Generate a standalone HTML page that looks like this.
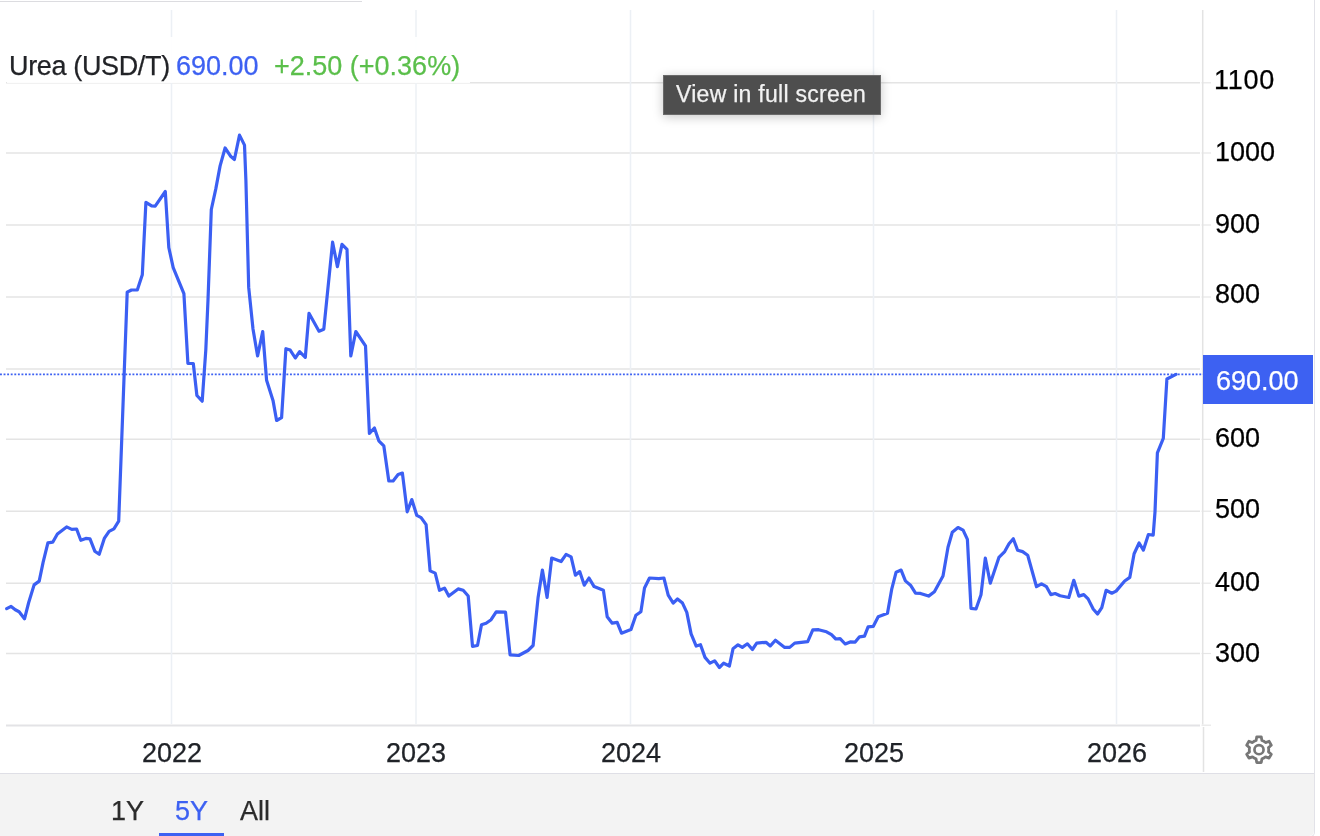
<!DOCTYPE html>
<html><head><meta charset="utf-8"><style>
html,body{margin:0;padding:0;background:#fff;width:1320px;height:836px;overflow:hidden;position:relative;font-family:"Liberation Sans",sans-serif;-webkit-font-smoothing:antialiased;}
.lt,.yl,.xl,.vbox span,.tip span,.btn{will-change:transform;-webkit-text-stroke:0.25px currentColor;}
.frame{position:absolute;left:-2px;top:-2px;width:1316px;height:838px;border-right:1.5px solid #e2e2e8;border-bottom:1px solid #e2e2e8;border-bottom-right-radius:5px;}
.topline{position:absolute;left:0;top:1px;width:362px;height:1.2px;background:#dcdce0;}
svg{position:absolute;left:0;top:0;}
.label{position:absolute;left:7px;top:37px;width:463px;height:46px;background:rgba(255,255,255,0.92);}
.lt{position:absolute;top:53px;font-size:27px;white-space:nowrap;line-height:1;}
.yl{position:absolute;left:1215px;font-size:27px;line-height:1;color:#000;white-space:nowrap;}
.xl{position:absolute;top:739.6px;width:120px;text-align:center;font-size:27px;line-height:1;color:#202328;}
.vbox{position:absolute;left:1203px;top:355px;width:110px;height:49px;background:#3d61f2;}
.vbox span{position:absolute;left:13px;top:12.6px;font-size:27px;line-height:1;color:#fff;}
.tip{position:absolute;left:663px;top:75px;width:216px;height:38px;background:#4e4e4e;border:1px solid #6a6a6a;box-shadow:0 2px 10px rgba(0,0,0,0.22);}
.tip span{position:absolute;left:12.2px;top:6.8px;font-size:23px;line-height:1;color:#f2f2f2;letter-spacing:0.27px;white-space:nowrap;}
.bottom{position:absolute;left:-2px;top:773px;width:1316px;height:62px;background:#f3f3f3;border-top:1px solid #dfdfe6;border-bottom-right-radius:5px;}
.btn{position:absolute;top:797.6px;font-size:27px;line-height:1;color:#2b2b2b;white-space:nowrap;}
.ul{position:absolute;left:159px;top:832.5px;width:65px;height:4px;background:#3d61f2;}
</style></head><body>
<div class="frame"></div>
<div class="topline"></div>
<div class="bottom"></div>
<svg width="1320" height="836" viewBox="0 0 1320 836">
<line x1="6" y1="82.8" x2="1200" y2="82.8" stroke="#e4e4e4" stroke-width="1.5"/>
<line x1="1201.5" y1="82.8" x2="1211" y2="82.8" stroke="#e6e6e6" stroke-width="1.2"/>
<line x1="6" y1="153.0" x2="1200" y2="153.0" stroke="#e4e4e4" stroke-width="1.5"/>
<line x1="1201.5" y1="153.0" x2="1211" y2="153.0" stroke="#e6e6e6" stroke-width="1.2"/>
<line x1="6" y1="225.0" x2="1200" y2="225.0" stroke="#e4e4e4" stroke-width="1.5"/>
<line x1="1201.5" y1="225.0" x2="1211" y2="225.0" stroke="#e6e6e6" stroke-width="1.2"/>
<line x1="6" y1="297.0" x2="1200" y2="297.0" stroke="#e4e4e4" stroke-width="1.5"/>
<line x1="1201.5" y1="297.0" x2="1211" y2="297.0" stroke="#e6e6e6" stroke-width="1.2"/>
<line x1="6" y1="369.0" x2="1200" y2="369.0" stroke="#e4e4e4" stroke-width="1.5"/>
<line x1="1201.5" y1="369.0" x2="1211" y2="369.0" stroke="#e6e6e6" stroke-width="1.2"/>
<line x1="6" y1="439.3" x2="1200" y2="439.3" stroke="#e4e4e4" stroke-width="1.5"/>
<line x1="1201.5" y1="439.3" x2="1211" y2="439.3" stroke="#e6e6e6" stroke-width="1.2"/>
<line x1="6" y1="511.2" x2="1200" y2="511.2" stroke="#e4e4e4" stroke-width="1.5"/>
<line x1="1201.5" y1="511.2" x2="1211" y2="511.2" stroke="#e6e6e6" stroke-width="1.2"/>
<line x1="6" y1="583.2" x2="1200" y2="583.2" stroke="#e4e4e4" stroke-width="1.5"/>
<line x1="1201.5" y1="583.2" x2="1211" y2="583.2" stroke="#e6e6e6" stroke-width="1.2"/>
<line x1="6" y1="653.5" x2="1200" y2="653.5" stroke="#e4e4e4" stroke-width="1.5"/>
<line x1="1201.5" y1="653.5" x2="1211" y2="653.5" stroke="#e6e6e6" stroke-width="1.2"/>
<line x1="171.5" y1="10" x2="171.5" y2="724" stroke="#ecf0f5" stroke-width="1.5"/>
<line x1="416.0" y1="10" x2="416.0" y2="724" stroke="#ecf0f5" stroke-width="1.5"/>
<line x1="630.5" y1="10" x2="630.5" y2="724" stroke="#ecf0f5" stroke-width="1.5"/>
<line x1="873.5" y1="10" x2="873.5" y2="724" stroke="#ecf0f5" stroke-width="1.5"/>
<line x1="1116.5" y1="10" x2="1116.5" y2="724" stroke="#ecf0f5" stroke-width="1.5"/>
<line x1="1202.7" y1="10" x2="1202.7" y2="724.5" stroke="#e3e3e3" stroke-width="1.5"/>
<line x1="6" y1="725.4" x2="1200" y2="725.4" stroke="#e3e3e6" stroke-width="2"/>
<line x1="1201.5" y1="725.2" x2="1211" y2="725.2" stroke="#e6e6e6" stroke-width="1.2"/>
<line x1="1203.5" y1="727" x2="1203.5" y2="772" stroke="#e3e3e3" stroke-width="1.5"/>
<line x1="0" y1="374.3" x2="1203" y2="374.3" stroke="#3d61f2" stroke-width="1.8" stroke-dasharray="1.9,1.68"/>
<path d="M6.7,608.7 L11.1,606.4 L15.3,609.8 L19.1,611.7 L24.5,618.8 L28.7,602.5 L34.1,584.9 L39.2,581.1 L43.1,562.3 L47.9,542.8 L52.7,542.2 L57.4,534.0 L66.6,526.9 L71.8,529.4 L76.6,529.0 L80.8,540.3 L85.8,538.4 L90,538.8 L94.8,551.2 L99.2,554.3 L104.3,538.4 L109.1,531.3 L113.9,528.8 L118.7,521.2 L127.2,292.2 L131.5,290 L137.3,290 L142.3,274.8 L145.9,202.3 L151.6,205.9 L155.2,206.2 L165.3,191.5 L168.8,247.5 L173.2,267.6 L183.9,293.6 L187.9,363.3 L193.3,363.5 L196.9,395.5 L202.2,401.2 L205.8,350 L208,300 L211.3,209.5 L215.8,188.9 L220.1,165.9 L225.1,148 L230.9,156.6 L234.4,159.5 L239.5,135.1 L244.5,145.1 L245.9,180.3 L248.7,287.4 L253,329 L257.6,356 L262.7,331.5 L266.6,380.3 L273,400.4 L276.6,420.5 L281.6,417.6 L285.9,348.7 L290.2,350.1 L295.3,358 L299.6,351.6 L305.3,357.3 L309,313.3 L319,331.2 L323.8,329.2 L332.6,242.2 L337.4,266.6 L342,244.4 L347,249.4 L350.8,355.9 L355.8,331.5 L365.5,345.8 L369.4,433.4 L374.4,428 L378.8,440.8 L383.8,445.8 L388.8,481 L393.1,481 L398.1,474.5 L402.4,473.1 L407.2,511.8 L411.8,499.6 L416.8,515.4 L421.1,517.6 L426.1,524.7 L430.1,570.9 L435.2,573.1 L439.5,590.3 L444.5,588.1 L448.8,596 L458.1,588.9 L463.2,590.3 L468.2,596 L472.5,646.3 L477.5,645.5 L481.5,624.7 L486.1,623.3 L491.1,619.7 L496.2,611.8 L505.5,612.1 L510.1,654.8 L518.7,655.5 L528,650.5 L533.1,645.5 L538.1,597.4 L542.4,570.1 L547.1,597.4 L551.7,558 L561.1,561.5 L566.1,554.4 L571.1,556.9 L575.4,575.2 L579.7,571.6 L584.3,585.2 L589,578 L594.1,586.6 L603.4,590.2 L607.2,616.7 L612.2,623.2 L617.2,622.4 L621.5,633.2 L630.9,629.6 L635.9,615.3 L640.9,611.7 L644.5,588 L649.5,578 L658.8,578.7 L663.9,578 L668.2,595.2 L673.2,603.1 L677.5,599 L682.5,603.1 L686.8,612.4 L691.1,633.9 L696.2,646.1 L700.5,644.7 L705,657.4 L710,663.2 L714.6,660.8 L719.4,667.5 L723.7,663.2 L729.4,666 L733,648.8 L738,644.8 L742.3,647.4 L747.4,643.8 L752.4,649.5 L756.7,643.1 L766,642.3 L770.3,645.9 L775.4,640.2 L784.7,647.4 L789.7,647.4 L794.7,643.1 L807.7,641.6 L812.8,629.9 L818.6,629.7 L826.5,631.8 L831.5,634.7 L835.8,639 L840.1,638.7 L845.2,644 L850.2,641.9 L855.2,642.1 L859.5,636.8 L864.5,636.1 L868.1,626.8 L873.2,626.4 L878.2,616.7 L887.5,613.2 L891.8,588.8 L896.1,572.2 L901.1,570.1 L905.4,580.9 L910.5,585.2 L915.5,593.1 L920.5,593.4 L928.6,596.1 L934.4,591.8 L943,576 L948,547.3 L952.3,532.2 L958,527.5 L963.1,530.1 L967.4,539.4 L971,608.3 L976,609 L981,594.7 L985.3,558.1 L990.3,583.2 L998.9,557.4 L1004.7,551.6 L1009,543.7 L1013.3,538.7 L1017.6,550.2 L1022.6,551.6 L1027.7,555.2 L1036.5,586.7 L1041.5,583.9 L1046.5,586.7 L1050.8,594.6 L1055.1,593.5 L1060.1,595.8 L1068.8,597.5 L1073.8,580.3 L1078.8,596.1 L1083.8,594.6 L1088.1,598.9 L1093.2,609 L1097.5,614 L1101.8,607.6 L1106.1,590.3 L1111.8,593.2 L1116.1,591.1 L1124.7,581 L1129.8,577.4 L1134.1,553.7 L1139.1,543 L1143.4,550.1 L1148.4,534.5 L1153.2,535.1 L1155,511.8 L1157.4,452.8 L1163.3,438.4 L1166.9,379 L1176,374.3" fill="none" stroke="#3b5ff3" stroke-width="3.2" stroke-linejoin="round" stroke-linecap="round"/>
<path d="M1261.90,740.44 L1261.25,736.79 L1256.75,736.79 L1256.10,740.44 A9.70,9.70 0 0 0 1252.43,742.56 L1248.95,741.30 L1246.70,745.20 L1249.53,747.58 A9.70,9.70 0 0 0 1249.53,751.82 L1246.70,754.20 L1248.95,758.10 L1252.43,756.84 A9.70,9.70 0 0 0 1256.10,758.96 L1256.75,762.61 L1261.25,762.61 L1261.90,758.96 A9.70,9.70 0 0 0 1265.57,756.84 L1269.05,758.10 L1271.30,754.20 L1268.47,751.82 A9.70,9.70 0 0 0 1268.47,747.58 L1271.30,745.20 L1269.05,741.30 L1265.57,742.56 A9.70,9.70 0 0 0 1261.90,740.44 Z" fill="none" stroke="#777" stroke-width="2.8" stroke-linejoin="round"/>
<circle cx="1259" cy="749.7" r="4.55" fill="none" stroke="#777" stroke-width="2.7"/>
</svg>
<div class="label"></div>
<div class="lt" style="left:9px;color:#222327;letter-spacing:-0.35px">Urea (USD/T)</div>
<div class="lt" style="left:175.5px;color:#3d61f2">690.00</div>
<div class="lt" style="left:273.5px;color:#5bbf4b">+2.50 (+0.36%)</div>
<div class="tip"><span>View in full screen</span></div>
<div class="yl" style="top:66.5px;letter-spacing:0.75px;left:1214px">1100</div>
<div class="yl" style="top:138.8px">1000</div>
<div class="yl" style="top:211.0px">900</div>
<div class="yl" style="top:281.3px">800</div>
<div class="yl" style="top:425.2px">600</div>
<div class="yl" style="top:496.0px">500</div>
<div class="yl" style="top:568.8px">400</div>
<div class="yl" style="top:640.3px">300</div>
<div class="vbox"><span>690.00</span></div>
<div class="xl" style="left:112.2px">2022</div>
<div class="xl" style="left:355.5px">2023</div>
<div class="xl" style="left:570.6px">2024</div>
<div class="xl" style="left:813.5px">2025</div>
<div class="xl" style="left:1056.5px">2026</div>
<div class="btn" style="left:111px">1Y</div>
<div class="btn" style="left:175px;color:#3d61f2">5Y</div>
<div class="btn" style="left:240px">All</div>
<div class="ul"></div>
</body></html>
